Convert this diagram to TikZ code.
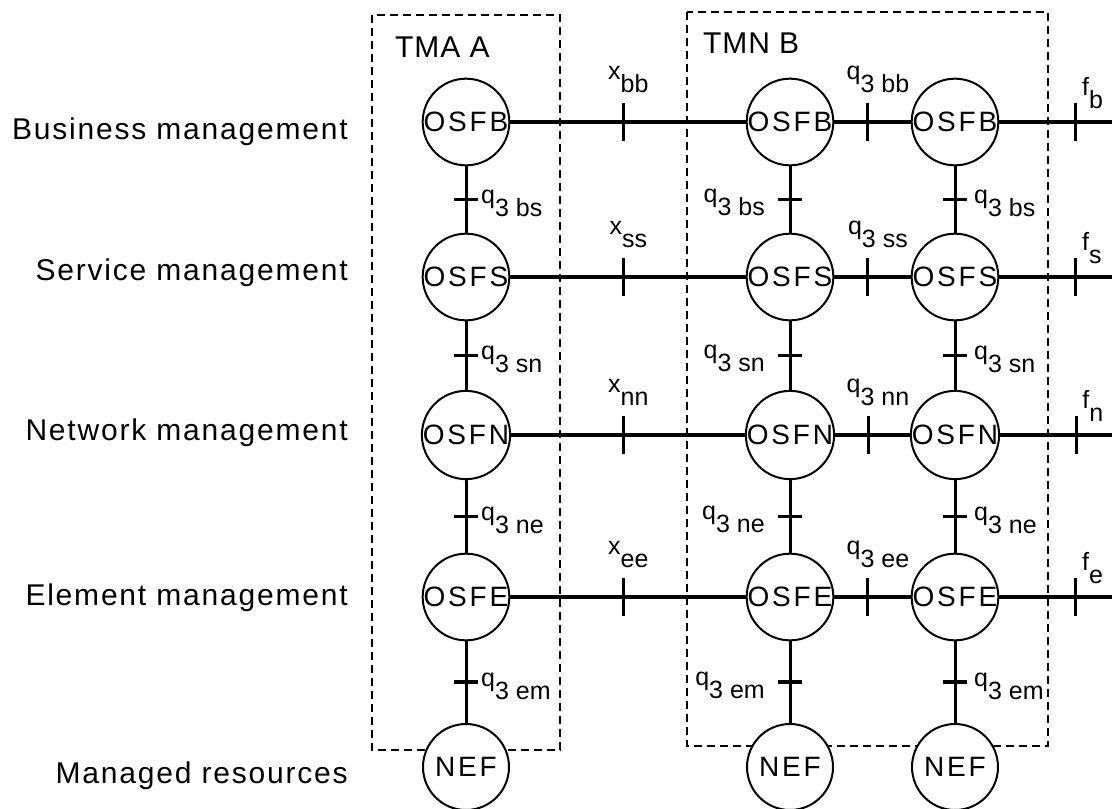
\documentclass[tikz,border=0pt]{standalone}
\usepackage{fontspec}
\setmainfont{Liberation Sans}
\usetikzlibrary{positioning}

% index lowered but kept at full size, as in the figure
\newcommand{\linklbl}[2]{#1\raisebox{-13pt}{#2}}

\tikzset{
  fn/.style={circle, draw, line width=2pt, fill=white, minimum size=86pt, inner sep=0pt,
             font=\fontsize{28}{28}\selectfont\addfontfeatures{LetterSpace=10}},
  layer/.style={anchor=base east, inner sep=0pt,
                font=\fontsize{30}{30}\selectfont\addfontfeatures{LetterSpace=6}},
  tmnbox/.style={line width=2.8pt, dash pattern=on 8pt off 5pt},
  title/.style={anchor=base west, inner sep=0pt,
                font=\fontsize{30}{30}\selectfont\addfontfeatures{LetterSpace=3}},
  hlink/.style={line width=3.6pt},
  vlink/.style={line width=3pt},
  htick/.style={line width=3pt},
  vtick/.style={line width=3.4pt},
  lbl/.style={inner sep=0pt, font=\fontsize{25}{25}\selectfont}
}

\begin{document}
\begin{tikzpicture}[x=1pt, y=-1pt]
  \useasboundingbox (0,0) rectangle (1112,809);

  % domains
  \draw[tmnbox] (372,15) rectangle (560,750);
  \draw[tmnbox] (687,12) rectangle (1048,746);
  \node[title] (tmaA) at (395,57) {TMA A};
  \node[title] (tmnB) at (703,53) {TMN B};

  % layers
  \node[layer] (busLayer) at (348,139) {Business management};
  \node[layer] (svcLayer) at (348,280) {Service management};
  \node[layer] (netLayer) at (348,440) {Network management};
  \node[layer] (elmLayer) at (348,605) {Element management};
  \node[layer] (resLayer) at (348,783) {Managed resources};

  % function blocks
  \node[fn] (aB) at (466,122) {OSFB};
  \node[fn] (aS) at (466,277) {OSFS};
  \node[fn] (aN) at (466,435) {OSFN};
  \node[fn] (aE) at (466,597) {OSFE};
  \node[fn] (aR) at (466,767) {NEF};
  \node[fn] (bB) at (790,122) {OSFB};
  \node[fn] (bS) at (790,277) {OSFS};
  \node[fn] (bN) at (790,435) {OSFN};
  \node[fn] (bE) at (790,597) {OSFE};
  \node[fn] (bR) at (790,767) {NEF};
  \node[fn] (cB) at (955,122) {OSFB};
  \node[fn] (cS) at (955,277) {OSFS};
  \node[fn] (cN) at (955,435) {OSFN};
  \node[fn] (cE) at (955,597) {OSFE};
  \node[fn] (cR) at (955,767) {NEF};
  \coordinate (oB) at (1112,122);
  \coordinate (oS) at (1112,277);
  \coordinate (oN) at (1112,435);
  \coordinate (oE) at (1112,597);

  % x, q3 and f reference points
  \foreach \r/\s in {B/b, S/s, N/n, E/e} {
    \draw[hlink] (a\r) -- (b\r) coordinate[pos=.48] (x\r);
    \draw[hlink] (b\r) -- (c\r) coordinate[pos=.44] (y\r);
    \draw[hlink] (c\r) -- (o\r) coordinate[pos=.68] (f\r);
    \foreach \t in {x,y,f}
      \draw[htick] ([yshift=19pt]\t\r) -- ([yshift=-19pt]\t\r);
    \node[lbl, anchor=base] at ([xshift=5pt, yshift=43pt]x\r) {\linklbl{x}{\s\s}};
    \node[lbl, anchor=base] at ([xshift=10pt, yshift=43pt]y\r) {\linklbl{q}{3 \s\s}};
    \node[lbl, anchor=base west] at ([xshift=6pt, yshift=27pt]f\r) {\linklbl{f}{\s}};
  }

  % q3 reference points between layers
  \foreach \u/\l/\s in {B/S/bs, S/N/sn, N/E/ne, E/R/em} {
    \foreach \c in {a,b,c} {
      \draw[vlink] (\c\u) -- (\c\l) coordinate[midway] (q\c\u);
      \draw[vtick] ([xshift=-12pt]q\c\u) -- ([xshift=12pt]q\c\u);
    }
    \node[lbl, anchor=base west] at ([xshift=15pt, yshift=-4pt]qa\u) {\linklbl{q}{3 \s}};
    \node[lbl, anchor=base east] at ([xshift=-25pt, yshift=-3pt]qb\u) {\linklbl{q}{3 \s}};
    \node[lbl, anchor=base west] at ([xshift=19pt, yshift=-4pt]qc\u) {\linklbl{q}{3 \s}};
  }
\end{tikzpicture}
\end{document}
